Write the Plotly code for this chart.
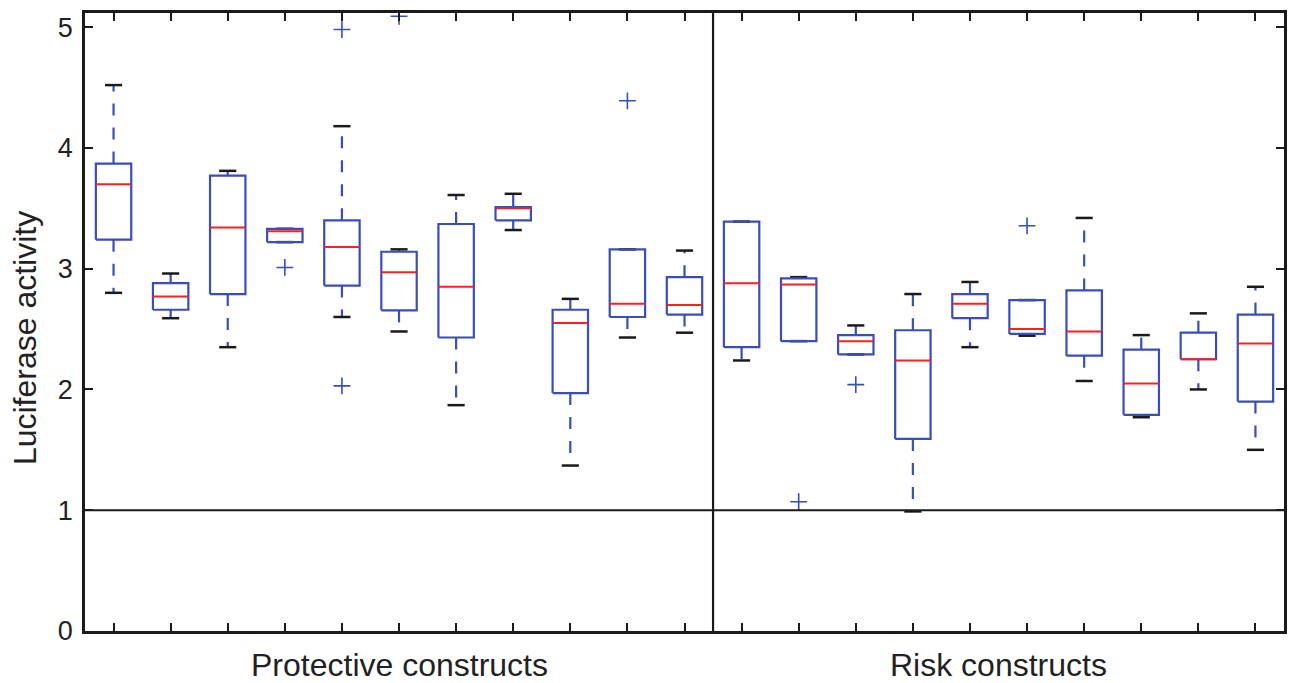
import plotly.graph_objects as go

# ---- data ----
positions = list(range(1, 22))
groups = ["Protective constructs", "Risk constructs"]
group_centers = [6, 16.5]
divider_x = 11.5
reference_y = 1

whisker_hi = [4.52, 2.96, 3.81, 3.33, 4.18, 3.16, 3.61, 3.62, 2.75, 3.16, 3.15,
              3.39, 2.93, 2.53, 2.79, 2.89, 2.74, 3.42, 2.45, 2.63, 2.85]
q3 = [3.87, 2.88, 3.77, 3.33, 3.40, 3.14, 3.37, 3.51, 2.66, 3.16, 2.93,
      3.39, 2.92, 2.45, 2.49, 2.79, 2.74, 2.82, 2.33, 2.47, 2.62]
median = [3.70, 2.77, 3.34, 3.31, 3.18, 2.97, 2.85, 3.50, 2.55, 2.71, 2.70,
          2.88, 2.87, 2.40, 2.24, 2.71, 2.50, 2.48, 2.05, 2.25, 2.38]
q1 = [3.24, 2.66, 2.79, 3.22, 2.86, 2.655, 2.43, 3.40, 1.97, 2.60, 2.62,
      2.35, 2.40, 2.29, 1.59, 2.59, 2.46, 2.28, 1.79, 2.25, 1.90]
whisker_lo = [2.80, 2.59, 2.35, 3.22, 2.60, 2.48, 1.87, 3.32, 1.37, 2.43, 2.47,
              2.24, 2.40, 2.29, 0.99, 2.35, 2.445, 2.07, 1.77, 2.00, 1.50]
outliers = [[], [], [], [3.01], [4.98, 2.03], [5.09], [], [], [], [4.39], [],
            [], [1.07], [2.04], [], [], [3.355], [], [], [], []]

yticks = [0, 1, 2, 3, 4, 5]

# ---- style ----
BLUE = "#3a4db8"
RED = "#ff1f1f"
BLACK = "#1a1a1a"
BOX_HALF = 0.31
CAP_HALF = 0.15
FONT = "Liberation Sans, Arial, sans-serif"

fig = go.Figure()

# whiskers (dashed, one trace per segment so the dash pattern starts at the box)
for p, lo, a, b, hi in zip(positions, whisker_lo, q1, q3, whisker_hi):
    for start, end in ((b, hi), (a, lo)):
        fig.add_trace(go.Scatter(
            x=[p, p], y=[start, end], mode="lines",
            line=dict(color=BLUE, width=2.2, dash="12px,12px"),
            hoverinfo="skip", showlegend=False))

# caps
cx, cy = [], []
for p, lo, hi in zip(positions, whisker_lo, whisker_hi):
    cx += [p - CAP_HALF, p + CAP_HALF, None, p - CAP_HALF, p + CAP_HALF, None]
    cy += [hi, hi, None, lo, lo, None]
fig.add_trace(go.Scatter(x=cx, y=cy, mode="lines",
                         line=dict(color=BLACK, width=2.5),
                         hoverinfo="skip", showlegend=False))

# boxes
bx, by = [], []
for p, a, b in zip(positions, q1, q3):
    bx += [p - BOX_HALF, p + BOX_HALF, p + BOX_HALF, p - BOX_HALF, p - BOX_HALF, None]
    by += [a, a, b, b, a, None]
fig.add_trace(go.Scatter(x=bx, y=by, mode="lines",
                         line=dict(color=BLUE, width=2.2),
                         hoverinfo="skip", showlegend=False))

# medians
mx, my = [], []
for p, m in zip(positions, median):
    mx += [p - BOX_HALF, p + BOX_HALF, None]
    my += [m, m, None]
fig.add_trace(go.Scatter(x=mx, y=my, mode="lines",
                         line=dict(color=RED, width=2),
                         hoverinfo="skip", showlegend=False))

# outliers
ox, oy = [], []
for p, vals in zip(positions, outliers):
    for v in vals:
        ox.append(p)
        oy.append(v)
fig.add_trace(go.Scatter(x=ox, y=oy, mode="markers",
                         marker=dict(symbol="cross-thin", size=12,
                                     line=dict(color=BLUE, width=1.6)),
                         hoverinfo="skip", showlegend=False))

# reference lines
fig.add_shape(type="line", xref="paper", x0=0, x1=1, yref="y",
              y0=reference_y, y1=reference_y, line=dict(color=BLACK, width=2.2))
fig.add_shape(type="line", xref="x", x0=divider_x, x1=divider_x, yref="paper",
              y0=0, y1=1, line=dict(color=BLACK, width=2.2))

# group labels
for name, c in zip(groups, group_centers):
    fig.add_annotation(x=c, xref="x", y=-0.055, yref="paper", text=name,
                       showarrow=False, yanchor="middle", xanchor="center",
                       font=dict(family=FONT, size=32, color="#222222"))

fig.add_annotation(x=-0.05, xref="paper", y=0.474, yref="paper",
                   text="Luciferase activity", textangle=-90, showarrow=False,
                   xanchor="center", yanchor="middle",
                   font=dict(family=FONT, size=32, color="#222222"))

fig.update_layout(
    width=1290, height=683,
    margin=dict(l=85, r=3, t=13, b=52),
    paper_bgcolor="white", plot_bgcolor="white",
    font=dict(family=FONT, color="#222222"),
    xaxis=dict(range=[0.5, 21.5], tickvals=positions, showticklabels=False,
               ticks="inside", ticklen=8, tickwidth=1.5, tickcolor=BLACK,
               showline=True, linewidth=2.5, linecolor=BLACK, mirror="allticks",
               showgrid=False, zeroline=False),
    yaxis=dict(range=[0, 5.117], tickvals=yticks, ticks="inside", ticklen=8,
               tickwidth=1.5, tickcolor=BLACK, showline=True, linewidth=2.5,
               linecolor=BLACK, mirror="allticks", showgrid=False,
               zeroline=False, tickfont=dict(size=27, family=FONT, color="#222222"),
               ticklabelstandoff=4),
)

fig.write_html("out.html")
